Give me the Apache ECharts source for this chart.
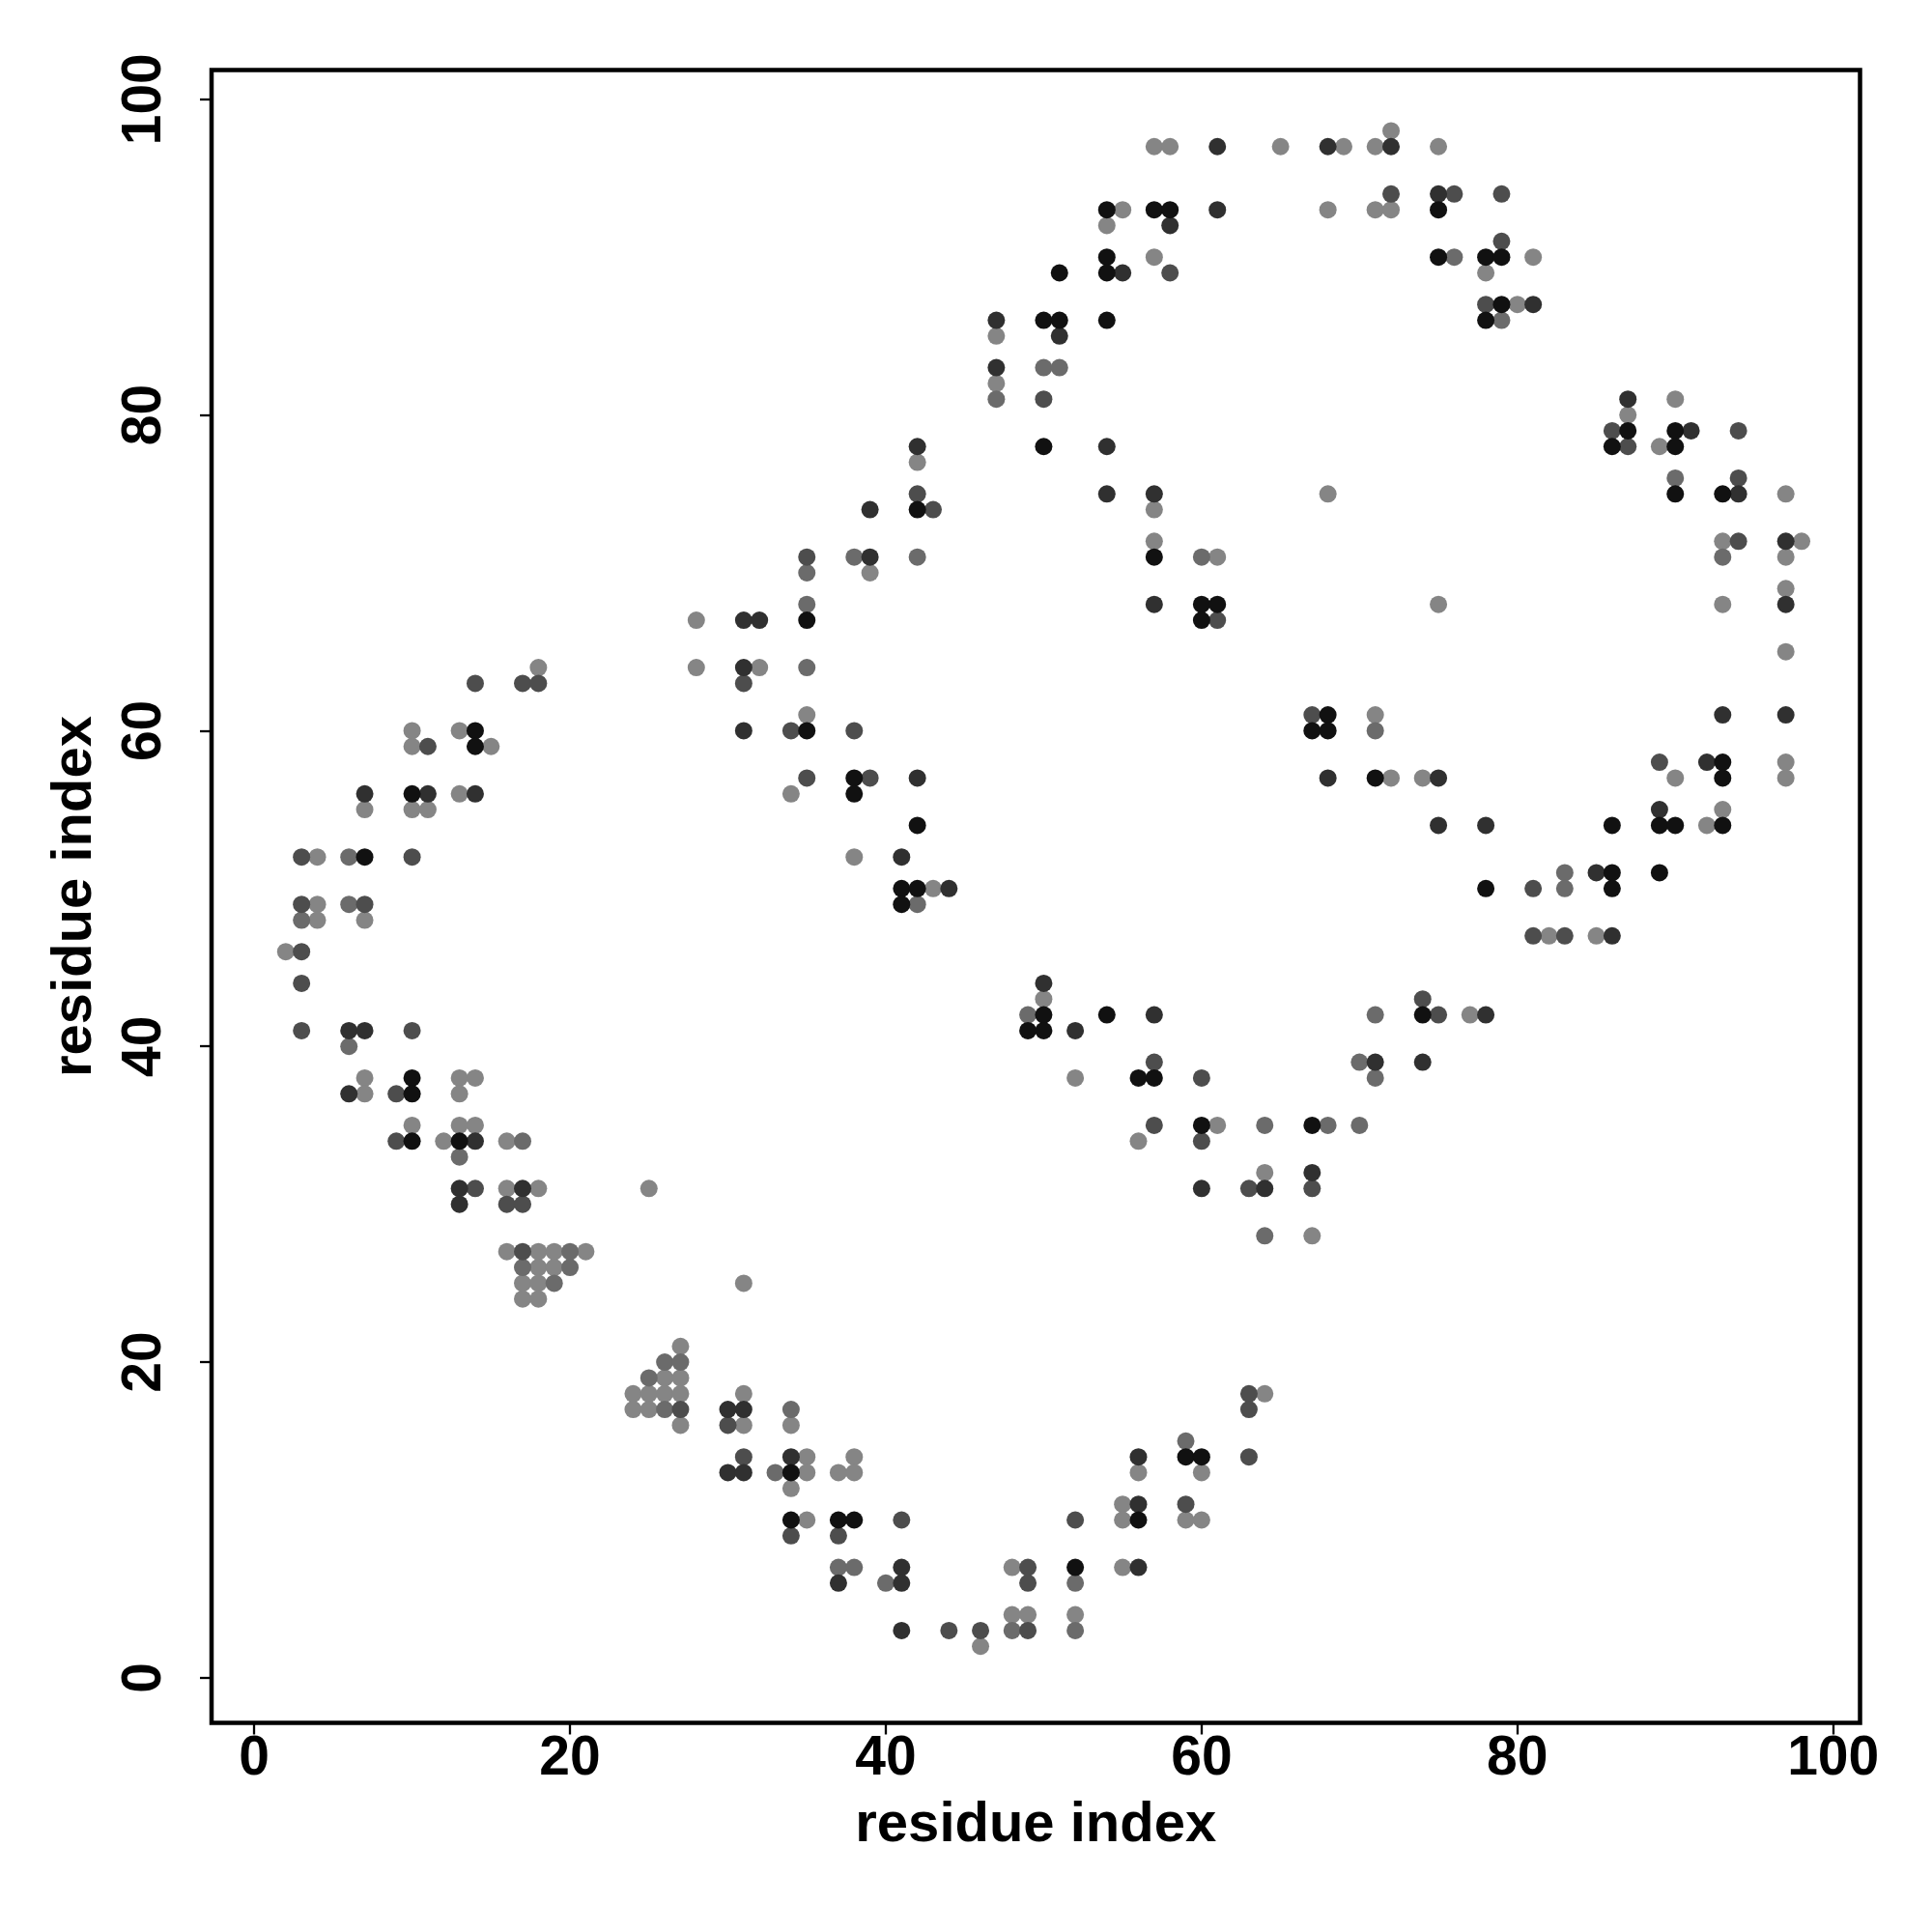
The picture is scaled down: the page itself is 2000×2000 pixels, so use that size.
<!DOCTYPE html>
<html>
<head>
<meta charset="utf-8">
<script src="https://cdn.jsdelivr.net/npm/echarts@6/dist/echarts.min.js"></script>
<style>
html,body{margin:0;padding:0;background:#fff;}
#chart{width:2000px;height:2000px;}
</style>
</head>
<body>
<div id="chart"></div>
<script>
// Tick values
const tickValues = [0, 20, 40, 60, 80, 100];
const xTitle = 'residue index';
const yTitle = 'residue index';

// Contact points [x, y], grouped by grey shade (lightest -> darkest)
const shade1 = [
[57,97],[58,97],[65,97],[55,93],[68,93],[54,92],[57,90],[47,85],[47,82],[42,77],[68,75],[57,74],[57,72],[61,71],[39,70],[28,67],
[72,98],[69,97],[71,97],[75,97],[71,93],[72,93],[81,90],[78,89],[80,87],[90,81],[87,80],[89,78],[97,75],[93,72],[98,72],[97,71],[97,69],[75,68],[93,68],
[18,64],[28,64],[32,64],[10,60],[13,60],[10,59],[15,59],[13,56],[7,55],[10,55],[11,55],[4,52],[4,49],[4,48],[7,48],[2,46],[7,38],[13,38],[14,38],[7,37],[13,37],[10,35],[13,35],[14,35],[12,34],[16,34],[16,31],[18,31],[25,31],
[16,27],[18,27],[19,27],[21,27],[18,26],[19,26],[17,25],[18,25],[31,25],[17,24],[18,24],[27,21],[26,19],[27,19],[24,18],[25,18],[26,18],[27,18],[31,18],[24,17],[25,17],[27,16],[31,16],
[64,32],[67,28],[64,18],[34,16],[35,14],[38,14],[35,13],[37,13],[38,13],[56,13],[60,13],[34,12],[55,11],[35,10],[55,10],[59,10],[60,10],[48,7],[55,7],[48,4],[49,4],[52,4],[46,2],
[35,61],[34,56],[38,52],[43,50],[50,43],[52,38],[61,35],[56,34],
[97,65],[71,61],[97,58],[72,57],[74,57],[90,57],[97,57],[93,55],[92,54],[82,47],[85,47],[77,42]
];
const shade2 = [
[50,83],[51,83],[47,81],[38,71],[42,71],[60,71],[35,70],[35,68],
[76,90],[79,86],[90,76],[93,71],
[6,52],[6,49],[3,48],[6,40],[17,34],[13,33],
[20,27],[17,26],[20,26],[19,25],[26,20],[27,20],[25,19],[26,17],[33,13],
[64,28],[34,17],[59,15],[37,7],[38,7],[40,6],[52,6],[48,3],[52,3],
[35,64],[42,49],[49,42],[64,35],[68,35],
[71,60],[83,51],[83,50],[71,42],[70,39],[71,38],[70,35]
];
const shade3 = [
[58,89],[50,81],[42,75],[43,74],[35,71],[61,67],
[72,94],[76,94],[79,94],[79,91],[78,87],[86,79],[94,79],[87,78],[94,76],[94,72],
[14,63],[17,63],[18,63],[31,63],[11,59],[3,52],[10,52],[3,49],[7,49],[3,46],[3,44],[3,41],[10,41],[9,37],[9,34],[14,31],
[16,30],[17,30],[17,27],[27,17],[30,16],[31,14],
[63,31],[67,31],[63,18],[63,17],[63,14],[59,11],[41,10],[52,10],[34,9],[37,9],[49,7],[49,6],[44,3],[46,3],[49,3],
[67,61],[34,60],[38,60],[35,57],[39,57],[57,39],[60,38],[57,35],[60,34],
[89,58],[81,50],[81,47],[83,47],[74,43],[75,42]
];
const shade4 = [
[61,97],[68,97],[61,93],[58,92],[55,89],[47,86],[51,85],[47,83],[42,78],[54,78],[54,75],[57,75],[39,74],[39,71],[57,68],[31,67],[32,67],
[72,97],[75,94],[81,87],[87,81],[91,79],[94,75],[97,72],[97,68],
[31,64],[31,60],[7,56],[11,56],[14,56],[6,41],[7,41],[6,37],[14,34],[13,31],[17,31],
[13,30],[30,17],[31,17],[30,13],[31,13],
[67,32],[60,31],[64,31],[34,14],[56,14],[56,11],[41,7],[56,7],[37,6],[41,6],[41,3],
[42,57],[68,57],[41,52],[44,50],[50,44],[57,42],[52,41],
[93,61],[97,61],[92,58],[75,57],[89,55],[75,54],[78,54],[85,51],[86,47],[78,42],[71,39],[74,39]
];
const shade5 = [
[54,93],[57,93],[58,93],[54,90],[51,89],[54,89],[50,86],[51,86],[54,86],[50,78],[42,74],[57,71],[60,68],[61,68],[35,67],[60,67],
[75,93],[75,90],[78,90],[79,90],[79,87],[78,86],[87,79],[90,79],[86,78],[90,78],[90,75],[93,75],
[14,60],[14,59],[10,56],[7,52],[10,38],[10,37],[10,34],[13,34],
[59,14],[60,14],[34,13],[34,10],[37,10],[38,10],[56,10],[52,7],
[68,61],[35,60],[67,60],[68,60],[38,57],[38,56],[42,54],[41,50],[42,50],[41,49],[50,42],[54,42],[49,41],[50,41],[56,38],[57,38],[60,35],[67,35],
[93,58],[71,57],[93,57],[86,54],[89,54],[90,54],[93,54],[86,51],[89,51],[78,50],[86,50],[74,42]
];

const shadeData = [shade1, shade2, shade3, shade4, shade5];
const shadeColors = ['#858585', '#6b6b6b', '#4d4d4d', '#303030', '#111111'];

const FONT = '"Liberation Sans", Arial, Helvetica, sans-serif';
const labelStyle = {fontFamily: FONT, fontWeight: 'bold', fontSize: 57, color: '#000'};

const chart = echarts.init(document.getElementById('chart'), null, {renderer: 'canvas'});
chart.setOption({
  animation: false,
  backgroundColor: '#fff',
  grid: {
    left: 219, top: 72.5, width: 1706.5, height: 1711,
    show: true, borderColor: '#000', borderWidth: 4.5, backgroundColor: 'transparent'
  },
  xAxis: {
    type: 'value', min: -2.7, max: 101.7,
    axisLine: {show: false, onZero: false},
    splitLine: {show: false},
    axisTick: {show: true, customValues: tickValues, length: 12, inside: false, lineStyle: {color: '#000', width: 2.3}},
    axisLabel: Object.assign({customValues: tickValues, margin: 9}, labelStyle),
    name: xTitle, nameLocation: 'middle', nameGap: 77,
    nameTextStyle: {fontFamily: FONT, fontWeight: 'bold', fontSize: 58, color: '#000'}
  },
  yAxis: {
    type: 'value', min: -2.85, max: 101.85,
    axisLine: {show: false, onZero: false},
    splitLine: {show: false},
    axisTick: {show: true, customValues: tickValues, length: 12, inside: false, lineStyle: {color: '#000', width: 2.3}},
    axisLabel: Object.assign({customValues: tickValues, margin: 40, rotate: 90}, labelStyle),
    name: yTitle, nameLocation: 'middle', nameGap: 112,
    nameTextStyle: {fontFamily: FONT, fontWeight: 'bold', fontSize: 58, color: '#000'}
  },
  series: shadeData.map((d, i) => ({
    type: 'scatter',
    data: d,
    symbol: 'circle',
    symbolSize: 18,
    itemStyle: {color: shadeColors[i], opacity: 1},
    emphasis: {disabled: true},
    z: 2 + i
  }))
});
</script>
</body>
</html>
